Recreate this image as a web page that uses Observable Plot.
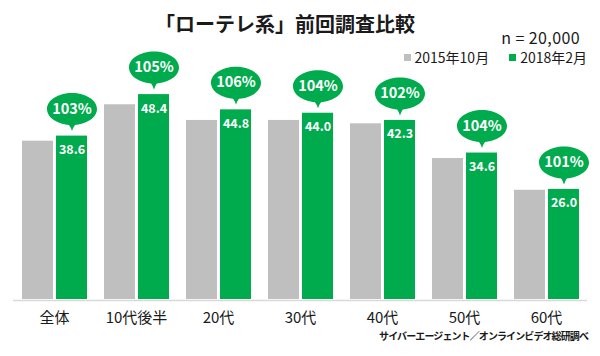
<!DOCTYPE html>
<html>
<head>
<meta charset="utf-8">
<script src="https://cdn.jsdelivr.net/npm/d3@7"></script>
<script src="https://cdn.jsdelivr.net/npm/@observablehq/plot@0.6"></script>
<style>
  body { margin: 0; background: #fff; font-family: "Noto Sans CJK JP", "Noto Sans", sans-serif; }
  #wrap { position: relative; width: 600px; height: 356px; overflow: hidden; }
  #chart { position: absolute; left: 0; top: 0; }
  .ov { position: absolute; white-space: nowrap; line-height: 1; color: #1a1a1a; }
  #title { left: 155px; top: 14px; font-size: 20px; font-weight: 700; letter-spacing: 0px; }
  #n { right: 20px; top: 29px; font-size: 16px; letter-spacing: 0.4px; }
  #legend { right: 13px; top: 50px; font-size: 14px; display: flex; align-items: center; }
  #legend .sw { display: inline-block; width: 7px; height: 7px; margin-right: 4px; }
  #legend .item { display: flex; align-items: center; margin-left: 20px; }
  #caption { right: 12px; top: 331px; font-size: 10px; font-weight: 700; letter-spacing: -0.9px; }
</style>
</head>
<body>
<div id="wrap">
  <div id="chart"></div>
  <div class="ov" id="title"></div>
  <div class="ov" id="n"></div>
  <div class="ov" id="legend"></div>
  <div class="ov" id="caption"></div>
</div>
<script>
const titleText = "「ローテレ系」前回調査比較";
const sampleText = "n = 20,000";
const captionText = "サイバーエージェント／オンラインビデオ総研調べ";
const categories = ["全体", "10代後半", "20代", "30代", "40代", "50代", "60代"];
const seriesNames = ["2015年10月", "2018年2月"];
const values2015 = [37.4, 46.0, 42.3, 42.3, 41.5, 33.3, 25.8];
const values2018 = [38.6, 48.4, 44.8, 44.0, 42.3, 34.6, 26.0];
const ratioLabels = ["103%", "105%", "106%", "104%", "102%", "104%", "101%"];
const seriesColors = ["#bfbfbf", "#00ab4e"];

document.getElementById("title").textContent = titleText;
document.getElementById("n").textContent = sampleText;
document.getElementById("caption").textContent = captionText;
const legend = document.getElementById("legend");
seriesNames.forEach((s, i) => {
  const item = document.createElement("span");
  item.className = "item";
  const sw = document.createElement("span");
  sw.className = "sw";
  sw.style.background = seriesColors[i];
  item.appendChild(sw);
  item.appendChild(document.createTextNode(s));
  legend.appendChild(item);
});

const rows = [];
categories.forEach((c, i) => {
  rows.push({category: c, series: seriesNames[0], value: values2015[i]});
  rows.push({category: c, series: seriesNames[1], value: values2018[i], ratio: ratioLabels[i]});
});
const greenRows = rows.filter(d => d.series === seriesNames[1]);

// speech bubble symbol (ellipse + tail), drawn around the anchor point
const bubble = {
  draw(ctx) {
    const rx = 25, ry = 16, k = 0.5523;
    ctx.moveTo(rx, 0);
    ctx.bezierCurveTo(rx, k * ry, k * rx, ry, 0, ry);
    ctx.bezierCurveTo(-k * rx, ry, -rx, k * ry, -rx, 0);
    ctx.bezierCurveTo(-rx, -k * ry, -k * rx, -ry, 0, -ry);
    ctx.bezierCurveTo(k * rx, -ry, rx, -k * ry, rx, 0);
    ctx.closePath();
    ctx.moveTo(8, 12);
    ctx.quadraticCurveTo(2, 15, 0, 22);
    ctx.quadraticCurveTo(-2, 15, -8, 12);
    ctx.closePath();
  }
};

const chart = Plot.plot({
  width: 600,
  height: 356,
  marginTop: 45,
  marginBottom: 57,
  marginLeft: 13,
  marginRight: 13,
  style: {fontFamily: "'Noto Sans CJK JP', 'Noto Sans', sans-serif", background: "transparent"},
  fx: {domain: categories, padding: 0, label: null},
  x: {domain: seriesNames, paddingInner: 0.1, paddingOuter: 0.23, axis: null},
  y: {domain: [0, 60], axis: null},
  color: {domain: seriesNames, range: seriesColors},
  marks: [
    Plot.axisFx({anchor: "bottom", tickSize: 0, tickPadding: 13, fontSize: 15, fill: "#1a1a1a", label: null}),
    Plot.barY(rows, {fx: "category", x: "series", y: "value", fill: "series"}),
    Plot.ruleY([0], {stroke: "#d9d9d9", strokeWidth: 1.5, dy: 1}),
    Plot.text(greenRows, {fx: "category", x: "series", y: "value", text: d => d.value.toFixed(1), dy: 14, fill: "white", fontWeight: "bold", fontSize: 12.5}),
    Plot.dot(greenRows, {fx: "category", x: "series", y: "value", symbol: bubble, fill: seriesColors[1], stroke: "none", dy: -27}),
    Plot.text(greenRows, {fx: "category", x: "series", y: "value", text: "ratio", dy: -27, fill: "white", fontWeight: "bold", fontSize: 14.5})
  ]
});
document.getElementById("chart").appendChild(chart);
</script>
</body>
</html>
